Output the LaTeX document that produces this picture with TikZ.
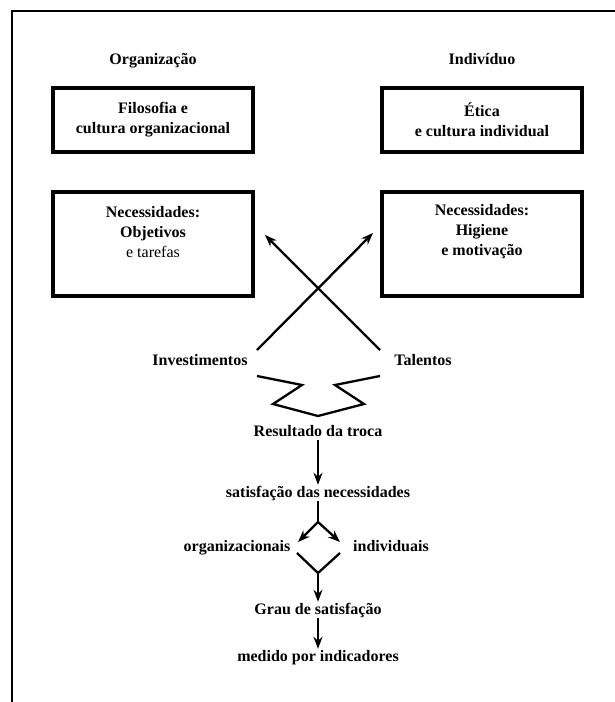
\documentclass[tikz,border=0pt]{standalone}
\usepackage{fontspec}
\setmainfont{Liberation Serif}
\usetikzlibrary{arrows.meta}
\tikzstyle{caixa}=[draw,line width=3.5pt,minimum width=200pt,align=center,inner sep=0pt]
\tikzstyle{rotulo}=[inner sep=1pt,text height=11pt,text depth=3pt]
\tikzstyle{seta}=[line width=2.3pt,-{Stealth[length=12pt,width=9pt]}]
\tikzstyle{traco}=[line width=2.3pt]

\begin{document}
\begin{tikzpicture}[x=1pt,y=-1pt,font=\fontsize{16}{20}\selectfont\bfseries]
    \useasboundingbox (0,0) rectangle (615,702);
    \draw[line width=1.2pt] (12,702) -- (12,11) -- (615,11);

    \node[rotulo] (org) at (153,60) {Organização};
    \node[rotulo] (ind) at (482,60) {Indivíduo};
    \node[caixa,minimum height=64pt] (fil) at (153,120) {Filosofia e\\cultura organizacional};
    \node[caixa,minimum height=64pt] (eti) at (482,120) {Ética\\e cultura individual};
    \node[caixa,minimum height=104pt] (nec1) at (153,244) {};
    \node[caixa,minimum height=104pt] (nec2) at (482,244) {};
    \node[align=center] (t1) at (153,232) {Necessidades:\\Objetivos\\{\mdseries e tarefas}};
    \node[align=center] (t2) at (482,232) {Necessidades:\\Higiene\\e motivação};

    \node[rotulo] (inv) at (200,361) {Investimentos};
    \node[rotulo] (tal) at (423,361) {Talentos};
    \node[rotulo] (res) at (318,432) {Resultado da troca};
    \node[rotulo] (sat) at (318,493) {satisfação das necessidades};
    \node[rotulo] (orgs) at (237,547) {organizacionais};
    \node[rotulo] (inds) at (391,547) {individuais};
    \node[rotulo] (grau) at (318,610) {Grau de satisfação};
    \node[rotulo] (med) at (318,657) {medido por indicadores};

    \coordinate (x1) at (257,350);
    \coordinate (x2) at (373,233);
    \coordinate (x3) at (380,350);
    \coordinate (x4) at (265,235);
    \coordinate (z1) at (257,376);
    \coordinate (z2) at (302,385);
    \coordinate (z3) at (273,404);
    \coordinate (zm) at (318,416);
    \coordinate (z5) at (364,404);
    \coordinate (z6) at (335,385);
    \coordinate (z7) at (380,376);
    \coordinate (r) at (318,522);
    \coordinate (p1) at (298,542);
    \coordinate (p2) at (340,542);
    \coordinate (v1) at (297,553);
    \coordinate (vm) at (318,573);
    \coordinate (v2) at (340,553);

    \foreach \from/\to in {x1/x2,x3/x4,res/sat,r/p1,r/p2,vm/grau,grau/med}
    \draw[seta] (\from) -- (\to);
    \draw[traco] (z1) -- (z2) -- (z3) -- (zm) -- (z5) -- (z6) -- (z7);
    \draw[traco] (sat) -- (r);
    \draw[traco] (v1) -- (vm) -- (v2);
\end{tikzpicture}
\end{document}
